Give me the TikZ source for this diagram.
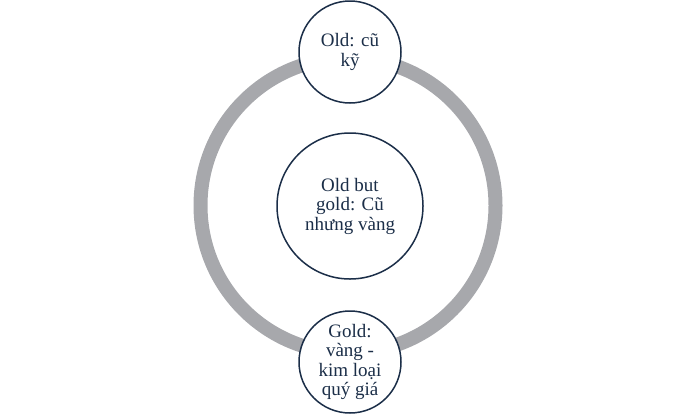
\documentclass[tikz,border=0pt]{standalone}
\usepackage{fontspec}
\setmainfont{Liberation Serif}
\definecolor{navy}{HTML}{1B2E48}
\definecolor{ringgray}{HTML}{A7A8AC}
\begin{document}
\begin{tikzpicture}[x=1pt,y=-1pt,
  bubble/.style={circle, draw=navy, line width=1.5pt, fill=white, inner sep=0pt,
    text=navy, align=center, font=\fontsize{19}{19.5}\selectfont},
  ringline/.style={draw=ringgray, line width=14pt}]
\useasboundingbox (0,0) rectangle (700,413);
\draw[ringline] (348,205.5) circle[radius=147.5];
\node[bubble, minimum size=146pt] (mid) at (350,206) {Old but\\gold: Cũ\\nhưng vàng};
\node[bubble, minimum size=102pt] (top) at (350,52) {Old: cũ\\kỹ};
\node[bubble, minimum size=102pt] (bot) at (350,362) {Gold:\\vàng -\\kim loại\\quý giá};
\end{tikzpicture}
\end{document}
